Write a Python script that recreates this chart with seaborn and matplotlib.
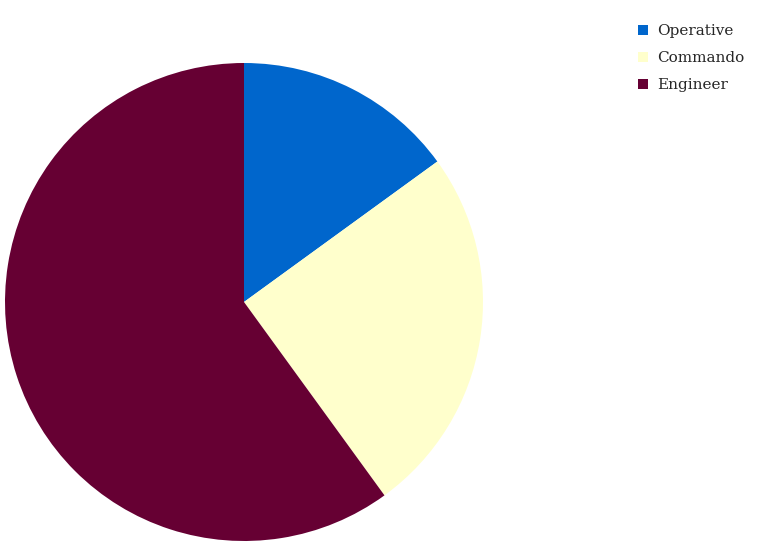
import matplotlib
matplotlib.use('Agg')
import matplotlib.pyplot as plt
import seaborn as sns
from matplotlib.patches import Patch

# data
labels = ['Operative', 'Commando', 'Engineer']
values = [15, 25, 60]
colors = ['#0066CC', '#FFFFCC', '#660033']

sns.set_theme(style='white')
plt.rcParams['font.family'] = 'serif'
plt.rcParams['font.serif'] = ['DejaVu Serif']

fig = plt.figure(figsize=(7.64, 5.48), dpi=100)
ax = fig.add_axes([5 / 764, 7 / 548, 478 / 764, 478 / 548])
ax.pie(values, colors=colors, startangle=90, counterclock=False, radius=1,
       wedgeprops={'linewidth': 0})
ax.set_xlim(-1, 1)
ax.set_ylim(-1, 1)
ax.set_aspect('equal')
ax.axis('off')

handles = [Patch(facecolor=c, edgecolor='none', label=l) for c, l in zip(colors, labels)]
fig.legend(handles=handles, loc='upper left', bbox_to_anchor=(632 / 764, 1 - 18 / 548),
           frameon=False, fontsize=11, handlelength=0.65, handleheight=0.65,
           handletextpad=0.6, labelspacing=0.85, borderaxespad=0)

fig.savefig('out.png', dpi=100, facecolor='white')
